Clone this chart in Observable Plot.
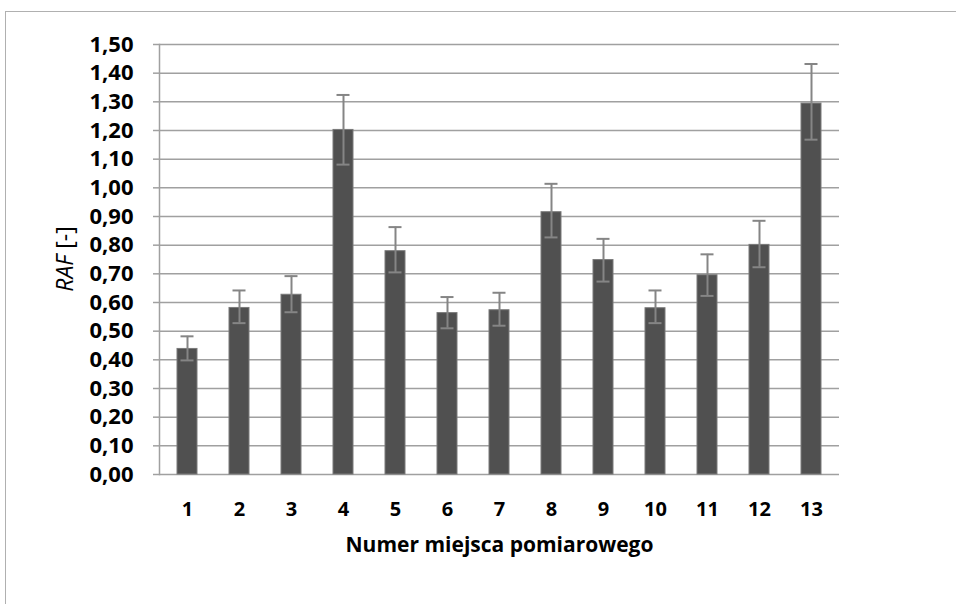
<!DOCTYPE html>
<html>
<head>
<meta charset="utf-8">
<script src="https://cdn.jsdelivr.net/npm/d3@7"></script>
<script src="https://cdn.jsdelivr.net/npm/@observablehq/plot@0.6"></script>
<style>
  html, body { margin: 0; padding: 0; background: #fff; overflow: hidden; }
  #frame { position: absolute; left: 5px; top: 11px; width: 1000px; height: 700px;
           border-left: 1px solid #b0b0b0; border-top: 1px solid #b0b0b0; }
  #chart { position: absolute; left: 0; top: 0; }
  #ylabel { position: absolute; left: 64px; top: 259px; transform: translate(-50%, -50%) rotate(-90deg);
            font-family: "Open Sans", sans-serif; font-size: 23px; color: #000; white-space: nowrap; }
</style>
</head>
<body>
<div id="frame"></div>
<div id="chart"></div>
<div id="ylabel"><i>RAF</i> [-]</div>
<script>
const places = ["1","2","3","4","5","6","7","8","9","10","11","12","13"];
const raf    = [0.438, 0.581, 0.627, 1.202, 0.779, 0.563, 0.573, 0.915, 0.748, 0.580, 0.695, 0.801, 1.294];
const errLow  = [0.398, 0.528, 0.566, 1.081, 0.705, 0.510, 0.519, 0.827, 0.673, 0.528, 0.623, 0.723, 1.168];
const errHigh = [0.482, 0.642, 0.692, 1.324, 0.863, 0.619, 0.634, 1.014, 0.822, 0.642, 0.768, 0.885, 1.432];
const yTicks = d3.range(0, 16).map(i => i / 10);

const data = places.map((p, i) => ({place: p, raf: raf[i], lo: errLow[i], hi: errHigh[i]}));
const fmt = d => d.toFixed(2).replace(".", ",");

const chart = Plot.plot({
  width: 956,
  height: 604,
  marginLeft: 159,
  marginRight: 117,
  marginTop: 44,
  marginBottom: 130,
  style: {fontFamily: "'Open Sans', sans-serif", fontSize: "20px", fontWeight: "bold", color: "#000", background: "transparent"},
  x: {domain: places, paddingInner: 0.62, paddingOuter: 0.31, label: null},
  y: {domain: [0, 1.5], label: null},
  marks: [
    Plot.gridY(yTicks, {stroke: "#a0a0a0", strokeOpacity: 1, strokeWidth: 1.5}),
    Plot.axisY(yTicks, {tickFormat: fmt, tickSize: 6, tickPadding: 20, stroke: "#a0a0a0", strokeWidth: 1.5, fontSize: 22, fontWeight: "bold", fill: "#000", label: null}),
    Plot.axisX({tickSize: 0, tickPadding: 27, fontSize: 20, fontWeight: "bold", fill: "#000", label: null}),
    Plot.frame({anchor: "left", stroke: "#a0a0a0", strokeWidth: 1.5}),
    Plot.barY(data, {x: "place", y: "raf", fill: "#505050", stroke: "#7a7a7a", strokeWidth: 1}),
    Plot.ruleX(data, {x: "place", y1: "lo", y2: "hi", stroke: "#858585", strokeWidth: 2}),
    Plot.tickY(data, {x: "place", y: "lo", stroke: "#858585", strokeWidth: 2, insetLeft: 3.5, insetRight: 3.5}),
    Plot.tickY(data, {x: "place", y: "hi", stroke: "#858585", strokeWidth: 2, insetLeft: 3.5, insetRight: 3.5}),
    Plot.text(["Numer miejsca pomiarowego"], {frameAnchor: "bottom", dy: 77, fontSize: 21, fontWeight: "bold", fill: "#000"})
  ]
});
document.getElementById("chart").appendChild(chart);
</script>
</body>
</html>
